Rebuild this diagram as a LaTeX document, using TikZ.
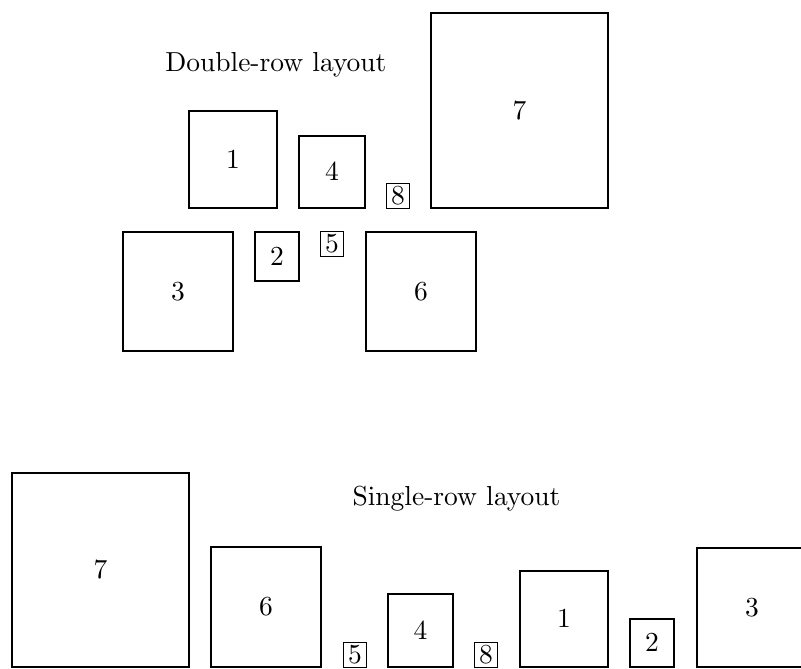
\documentclass[tikz,border=0pt]{standalone}
\font\bigrm=cmr10 at 27.5pt
\begin{document}
\begin{tikzpicture}[x=1pt,y=-1pt,
  box/.style={draw=black,line width=1.7pt,inner sep=0pt,outer sep=0pt,
    font=\bigrm},
  ttl/.style={anchor=base,inner sep=0pt,font=\bigrm}]
\useasboundingbox (0,0) rectangle (801,669);
% double-row layout
\node[ttl] (dt) at (276,72) {Double-row layout};
\node[box,minimum width=177pt,minimum height=195pt] (d7) at (519.5,110.5) {7};
\node[box,minimum width=88pt,minimum height=97pt] (d1) at (233,159.5) {1};
\node[box,minimum width=66pt,minimum height=72pt] (d4) at (332,172) {4};
\node[box,minimum width=23pt,minimum height=25pt] (d8) at (398,196) {8};
\node[box,minimum width=110pt,minimum height=119pt] (d3) at (178,291.5) {3};
\node[box,minimum width=44pt,minimum height=49pt] (d2) at (277,256.5) {2};
\node[box,minimum width=23pt,minimum height=25pt] (d5) at (332,244) {5};
\node[box,minimum width=110pt,minimum height=119pt] (d6) at (421,291.5) {6};
% single-row layout
\node[ttl] (st) at (456.5,505) {Single-row layout};
\node[box,minimum width=177pt,minimum height=194pt] (s7) at (100.5,570) {7};
\node[box,minimum width=110pt,minimum height=120pt] (s6) at (266,607) {6};
\node[box,minimum width=23pt,minimum height=25pt] (s5) at (355,655) {5};
\node[box,minimum width=65pt,minimum height=73pt] (s4) at (420.5,630.5) {4};
\node[box,minimum width=23pt,minimum height=25pt] (s8) at (486,655) {8};
\node[box,minimum width=88pt,minimum height=96pt] (s1) at (564,619) {1};
\node[box,minimum width=44pt,minimum height=48pt] (s2) at (652,643) {2};
\node[box,minimum width=110pt,minimum height=119pt] (s3) at (752,607.5) {3};
\end{tikzpicture}
\end{document}
